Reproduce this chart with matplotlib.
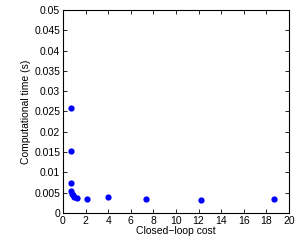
import matplotlib
matplotlib.use('Agg')
import matplotlib.pyplot as plt

# closed-loop cost vs computational time
cost = [0.75, 0.75, 0.75, 0.75, 0.78, 0.85, 1.0, 1.25, 2.1, 4.0, 7.35, 12.2, 18.7]
comp_time = [0.0258, 0.0153, 0.0075, 0.0053, 0.0047, 0.0043, 0.0040, 0.0037,
             0.0034, 0.0040, 0.0034, 0.0032, 0.0035]

plt.rcParams['font.family'] = ['Liberation Sans', 'DejaVu Sans']
plt.rcParams['font.size'] = 7.5

fig = plt.figure(figsize=(3.07, 2.42), dpi=100)
ax = fig.add_axes([0.205, 0.12, 0.736, 0.839])
ax.plot(cost, comp_time, 'o', color='#0000ff', markersize=4.5, markeredgewidth=0)
ax.set_xlim(0, 20)
ax.set_ylim(0, 0.05)
ax.set_xticks(range(0, 21, 2))
ax.set_yticks([i * 0.005 for i in range(11)])
ax.set_yticklabels(['0', '0.005', '0.01', '0.015', '0.02', '0.025', '0.03',
                    '0.035', '0.04', '0.045', '0.05'])
ax.tick_params(direction='in', top=True, right=True, length=3, width=0.6, pad=2)
for s in ax.spines.values():
    s.set_linewidth(0.8)
ax.set_xlabel('Closed\u2212loop cost', labelpad=0)
ax.set_ylabel('Computational time (s)', labelpad=2)
fig.savefig('out.png', dpi=100)
